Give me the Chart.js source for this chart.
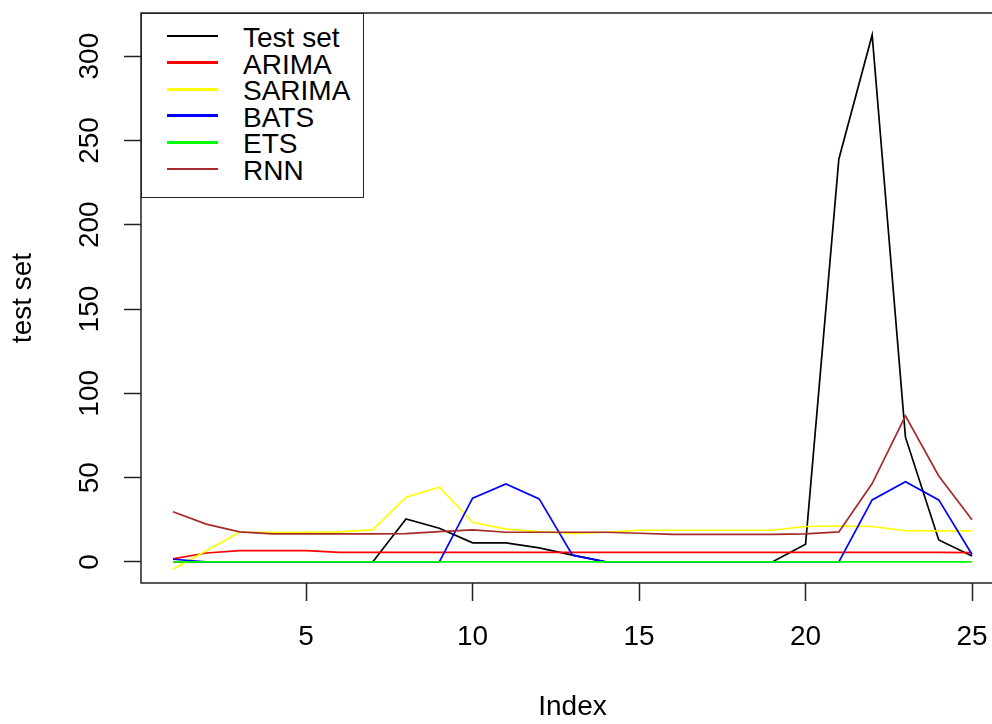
<!DOCTYPE html>
<html lang="en">
<head>
  <meta charset="UTF-8">
  <title>Test set and forecasts</title>
  <script src="https://cdn.jsdelivr.net/npm/chart.js"></script>
  <style>
    html, body {
      margin: 0;
      padding: 0;
      background: #fff;
      width: 992px;
      height: 724px;
      overflow: hidden;
    }
    #wrap {
      position: relative;
      width: 1040px;
      height: 724px;
    }
    #legend {
      position: absolute;
      left: 141px;
      top: 13px;
      width: 223px;
      height: 185px;
      box-sizing: border-box;
      border: 1.5px solid #222;
      background: #fff;
      font-family: "Liberation Sans", Arial, sans-serif;
      font-size: 28px;
      color: #000;
    }
    .row {
      position: absolute;
      left: 0;
      height: 26px;
      display: flex;
      align-items: center;
      white-space: nowrap;
    }
    .row i {
      display: block;
      width: 51px;
      height: 2.7px;
      margin-left: 25px;
      margin-right: 25px;
    }
    .row span {
      position: relative;
      top: 2px;
    }
  </style>
</head>
<body>
  <div id="wrap">
    <canvas id="plot" width="1040" height="724"></canvas>
    <div id="legend"></div>
  </div>

  <script>
    // x positions (Index)
    const indexes = [1, 2, 3, 4, 5, 6, 7, 8, 9, 10, 11, 12, 13, 14, 15, 16, 17, 18, 19, 20, 21, 22, 23, 24, 25];

    const seriesNames = ['Test set', 'ARIMA', 'SARIMA', 'BATS', 'ETS', 'RNN'];
    const seriesColors = ['#000000', '#ff0000', '#ffff00', '#0000ff', '#00ff00', '#a52a2a'];

    const testSet = [0, 0, 0, 0, 0, 0, 0, 25.5, 20, 11.3, 11.3, 8.3, 4, 0, 0, 0, 0, 0, 0, 10.5, 239, 312.6, 74, 13, 3.5];
    const arima   = [1.8, 5.3, 6.7, 6.7, 6.7, 5.7, 5.7, 5.7, 5.7, 5.7, 5.7, 5.7, 5.7, 5.7, 5.7, 5.7, 5.7, 5.7, 5.7, 5.7, 5.7, 5.7, 5.7, 5.7, 5.5];
    const sarima  = [-4.4, 6.6, 17.6, 17.6, 17.6, 17.8, 19, 38.4, 44.3, 23.5, 19.5, 18, 16.8, 17.6, 18.8, 18.8, 18.8, 18.8, 18.8, 21, 21.3, 21, 18.5, 18.4, 18.4];
    const bats    = [1.6, 0, 0, 0, 0, 0, 0, 0, 0, 37.8, 46.3, 37.4, 4, 0, 0, 0, 0, 0, 0, 0, 0, 36.8, 47.6, 36.8, 4.4];
    const ets     = [0, 0, 0, 0, 0, 0, 0, 0, 0, 0, 0, 0, 0, 0, 0, 0, 0, 0, 0, 0, 0, 0, 0, 0, 0];
    const rnn     = [29.8, 22.4, 17.8, 16.6, 16.6, 16.6, 16.6, 16.8, 18, 19, 17.6, 17.6, 17.6, 17.6, 17, 16.4, 16.4, 16.4, 16.4, 16.6, 17.8, 46.5, 86.7, 51, 25];

    const seriesValues = [testSet, arima, sarima, bats, ets, rnn];

    const fontFamily = '"Liberation Sans", Arial, sans-serif';

    // R draws the plot box around the whole plotting region
    const frame = {
      id: 'frame',
      afterDatasetsDraw(chart) {
        const { ctx, chartArea: a } = chart;
        ctx.save();
        ctx.strokeStyle = '#222';
        ctx.lineWidth = 1.5;
        ctx.strokeRect(a.left, a.top, a.right - a.left, a.bottom - a.top);
        ctx.restore();
      }
    };

    const datasets = seriesNames.map((name, i) => ({
      label: name,
      data: indexes.map((x, k) => ({ x: x, y: seriesValues[i][k] })),
      borderColor: seriesColors[i],
      backgroundColor: seriesColors[i],
      borderWidth: 1.7,
      pointRadius: 0,
      tension: 0,
      fill: false,
      order: seriesNames.length - 1 - i   // later series drawn on top, like lines() in R
    }));

    new Chart(document.getElementById('plot'), {
      type: 'line',
      data: { datasets: datasets },
      options: {
        responsive: false,
        animation: false,
        layout: { padding: { top: 13, right: 36, left: 0, bottom: 0 } },
        plugins: {
          legend: { display: false },
          tooltip: { enabled: false }
        },
        scales: {
          x: {
            type: 'linear',
            min: 0.04,
            max: 25.96,
            afterFit: s => { s.height = 141; s.paddingLeft = 0; s.paddingRight = 0; },
            border: { display: false },
            grid: { drawOnChartArea: false, drawTicks: true, tickLength: 18, tickColor: '#222', tickWidth: 1.5 },
            ticks: {
              stepSize: 5,
              includeBounds: false,
              autoSkip: false,
              maxRotation: 0,
              padding: 19,
              color: '#000',
              font: { family: fontFamily, size: 28 }
            },
            title: {
              display: true,
              text: 'Index',
              color: '#000',
              font: { family: fontFamily, size: 28 },
              padding: { top: 0, bottom: 0 }
            }
          },
          y: {
            min: -12.5,
            max: 325.6,
            afterFit: s => { s.width = 141; s.paddingTop = 0; s.paddingBottom = 0; },
            border: { display: false },
            grid: { drawOnChartArea: false, drawTicks: true, tickLength: 17, tickColor: '#222', tickWidth: 1.5 },
            ticks: {
              stepSize: 50,
              includeBounds: false,
              minRotation: 90,
              maxRotation: 90,
              crossAlign: 'center',
              padding: 10.6,
              color: '#000',
              font: { family: fontFamily, size: 28 }
            },
            title: {
              display: true,
              text: 'test set',
              color: '#000',
              font: { family: fontFamily, size: 28 },
              padding: { top: 6, bottom: 0 }
            }
          }
        }
      },
      plugins: [frame]
    });

    // legend box, top-left like legend("topleft", ...)
    const legend = document.getElementById('legend');
    seriesNames.forEach((name, i) => {
      const row = document.createElement('div');
      row.className = 'row';
      row.style.top = (23.5 - 13 + i * 26.6 - 1.5) + 'px';
      const line = document.createElement('i');
      line.style.background = seriesColors[i];
      const label = document.createElement('span');
      label.textContent = name;
      row.appendChild(line);
      row.appendChild(label);
      legend.appendChild(row);
    });
  </script>
</body>
</html>
